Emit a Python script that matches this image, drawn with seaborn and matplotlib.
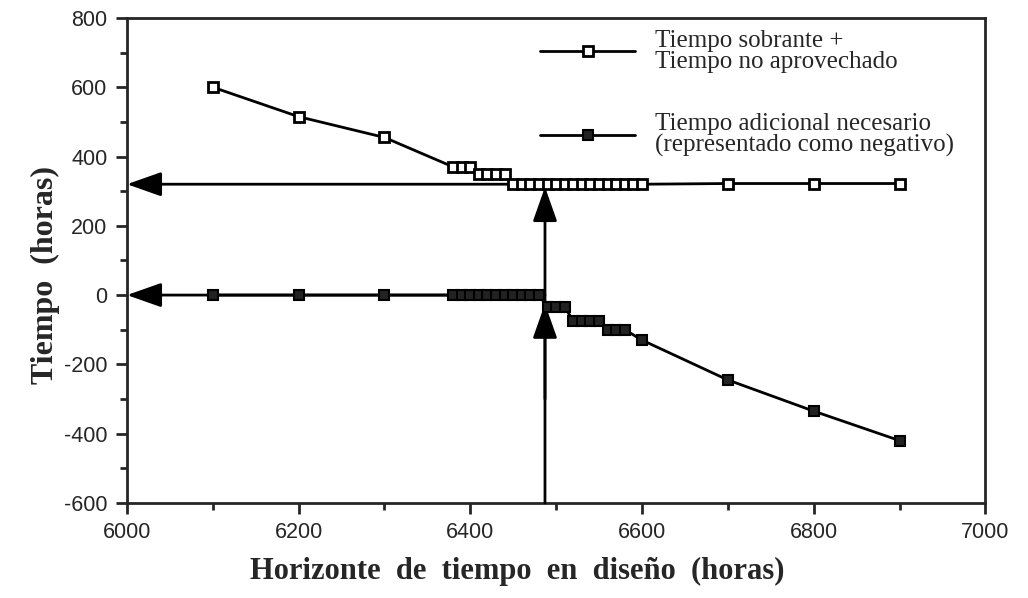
import numpy as np
import pandas as pd
import matplotlib
matplotlib.use("Agg")
import matplotlib.pyplot as plt
import seaborn as sns
from matplotlib.ticker import MultipleLocator

# datos
sobrante_x = [6100, 6200, 6300, 6380, 6390, 6400, 6410, 6420, 6430, 6440,
              6450, 6460, 6470, 6480, 6490, 6500, 6510, 6520, 6530, 6540,
              6550, 6560, 6570, 6580, 6590, 6600, 6700, 6800, 6900]
sobrante_y = [600, 515, 455, 370, 370, 370, 350, 350, 350, 350,
              320, 320, 320, 320, 320, 320, 320, 320, 320, 320,
              320, 320, 320, 320, 320, 320, 322, 322, 322]

adicional_x = [6100, 6200, 6300, 6380, 6390, 6400, 6410, 6420, 6430, 6440,
               6450, 6460, 6470, 6480, 6490, 6500, 6510, 6520, 6530, 6540,
               6550, 6560, 6570, 6580, 6600, 6700, 6800, 6900]
adicional_y = [0, 0, 0, 0, 0, 0, 0, 0, 0, 0,
               0, 0, 0, 0, -35, -35, -35, -75, -75, -75,
               -75, -100, -100, -100, -130, -245, -335, -420]

horizonte = 6487
nivel_sobrante = 320

sns.set_style("ticks")
plt.rcParams['font.family'] = ['Liberation Sans', 'DejaVu Sans']
plt.rcParams['axes.unicode_minus'] = False

fig = plt.figure(figsize=(10.28, 5.98), dpi=100)
ax = fig.add_axes([0.1235, 0.159, 0.835, 0.811])

# flechas
flecha = dict(arrowstyle='-|>,head_length=0.85,head_width=0.3', color='black',
              lw=2, mutation_scale=25, shrinkA=0, shrinkB=0)
ax.annotate('', xy=(6000, nivel_sobrante), xytext=(horizonte, nivel_sobrante),
            arrowprops=flecha, annotation_clip=False)
ax.annotate('', xy=(6000, 0), xytext=(horizonte, 0),
            arrowprops=flecha, annotation_clip=False)
ax.annotate('', xy=(horizonte, nivel_sobrante - 8), xytext=(horizonte, -600),
            arrowprops=flecha, annotation_clip=False)
ax.annotate('', xy=(horizonte, -25), xytext=(horizonte, -300),
            arrowprops=flecha, annotation_clip=False)

df1 = pd.DataFrame({'x': sobrante_x, 'y': sobrante_y})
df2 = pd.DataFrame({'x': adicional_x, 'y': adicional_y})
sns.lineplot(data=df1, x='x', y='y', ax=ax, color='black', lw=2,
             marker='s', markersize=7.5, markerfacecolor='white',
             markeredgecolor='black', markeredgewidth=2, estimator=None,
             label='Tiempo sobrante +\nTiempo no aprovechado', zorder=5)
sns.lineplot(data=df2, x='x', y='y', ax=ax, color='black', lw=2,
             marker='s', markersize=7.5, markerfacecolor='#222222',
             markeredgecolor='black', markeredgewidth=1.5, estimator=None,
             label='Tiempo adicional necesario\n(representado como negativo)', zorder=5)

ax.set_xlim(6000, 7000)
ax.set_ylim(-600, 800)
ax.xaxis.set_major_locator(MultipleLocator(200))
ax.xaxis.set_minor_locator(MultipleLocator(100))
ax.yaxis.set_major_locator(MultipleLocator(200))
ax.yaxis.set_minor_locator(MultipleLocator(100))
ax.tick_params(which='major', direction='out', length=8, width=2, labelsize=15.5, pad=6)
ax.tick_params(which='minor', direction='out', length=5, width=2)
for s in ax.spines.values():
    s.set_linewidth(2)

ax.set_xlabel('Horizonte  de  tiempo  en  diseño  (horas)', family='Liberation Serif',
              fontweight='bold', fontsize=22)
ax.xaxis.set_label_coords(0.455, -0.142, transform=ax.transAxes)
ax.xaxis.label.set_va('center')
ax.set_ylabel('Tiempo  (horas)', family='Liberation Serif',
              fontweight='bold', fontsize=23)
ax.yaxis.set_label_coords(-0.095, 0.47, transform=ax.transAxes)
ax.yaxis.label.set_va('center')

leg = ax.legend(loc='upper left', bbox_to_anchor=((540 - 127) / 858, 0.975), frameon=False,
                prop={'family': 'Liberation Serif', 'size': 18},
                handlelength=3.8, handletextpad=0.8, labelspacing=1.6,
                borderpad=0, borderaxespad=0)
for t in leg.get_texts():
    t.set_linespacing(0.95)

fig.savefig('out.png', dpi=100)
